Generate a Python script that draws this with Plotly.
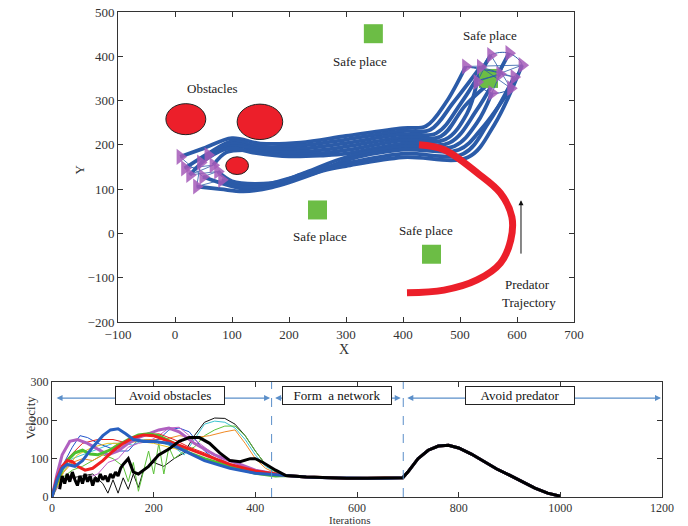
import plotly.graph_objects as go

# ---------------- top chart data ----------------
obst_x = [19, 149, 109]
obst_y = [258, 252, 153]
obst_r = [35, 40, 20]

safe_x = [250, 348, 450, 550]
safe_y = [53, 451, -47, 350]

safe_lbl_x = [254, 325, 440, 553]
safe_lbl_y = [-8, 389, 6, 448]

agent_paths = [
    [(9,173),(50,192),(100,215),(150,203),(220,205),(300,220),(400,238),(440,242),(475,295),(510,377)],
    [(17,147),(60,182),(100,208),(150,196),(220,198),(300,212),(400,231),(448,234),(488,295),(536,376)],
    [(58,177),(85,198),(105,203),(150,190),(220,191),(300,204),(400,224),(458,226),(502,295),(554,403)],
    [(45,160),(75,188),(110,197),(160,184),(230,185),(300,196),(400,217),(466,219),(510,290),(570,360)],
    [(67,154),(90,183),(130,188),(180,178),(250,180),(300,188),(400,210),(474,212),(512,270),(530,342)],
    [(26,132),(55,168),(95,192),(140,182),(200,174),(260,176),(300,180),(400,203),(482,205),(530,280),(586,407)],
    [(49,128),(90,110),(125,100),(170,110),(230,138),(300,172),(400,196),(490,197),(530,250),(556,317)],
    [(38,106),(80,100),(120,95),(170,104),(240,133),(300,165),(400,189),(498,189),(540,240),(589,328)],
    [(82,121),(110,108),(150,108),(210,128),(260,148),(300,158),(400,180),(506,180),(550,250),(595,353)],
    [(75,140),(100,118),(140,112),(200,120),(260,142),(300,152),(400,172),(514,172),(560,245),(609,380)],
]

start_x = [9, 17, 26, 38, 49, 58, 67, 82, 75, 45]
start_y = [173, 147, 132, 106, 128, 177, 154, 121, 140, 160]
end_x = [510, 536, 554, 586, 609, 595, 589, 556, 530, 570]
end_y = [377, 376, 403, 407, 380, 353, 328, 317, 342, 360]

pred_x = [428, 472, 530, 571, 591, 589, 571, 530, 472, 407]
pred_y = [200, 189, 137, 91, 37, -15, -67, -105, -128, -134]

# ---------------- bottom chart data ----------------
tail_x = [460, 500, 540, 580, 620, 660, 690, 700, 720, 740, 760, 780, 800, 825, 850, 875, 900, 925, 950, 975, 1000]
tail_y = [56, 52, 50, 49, 49, 49, 50, 65, 100, 122, 133, 135, 128, 112, 92, 73, 57, 39, 23, 10, 2]

thin_black_x = [20,40,60,80,100,110,120,130,140,150,160,170,180,200,220,240,260,280,300,320,340,360,380,400,420,440]
thin_black_y = [40,50,55,60,35,10,45,10,50,20,60,25,70,90,80,100,115,160,195,206,205,190,160,120,85,68]
thin_cyan_x = [0,20,40,60,80,100,120,140,160,180,200,220,240,260,280,300,320,340,360,380,400,420,440]
thin_cyan_y = [0,60,100,110,120,130,140,140,135,150,150,140,130,110,150,190,198,195,180,150,110,80,65]
thin_green_x = [0,20,40,60,80,100,120,140,150,160,170,180,190,200,210,220,230,240,260,280,300,320,340,360,380,400,420,440]
thin_green_y = [0,50,70,80,95,110,100,80,40,90,15,70,120,60,140,60,130,100,120,130,160,175,185,185,160,120,85,65]
thin_orange_x = [0,20,40,60,80,100,130,160,190,220,250,280,310,340,360,380,400,420,440]
thin_orange_y = [0,60,90,100,95,110,140,145,150,150,160,155,160,170,175,140,100,75,62]
thin_blue_x = [0,20,40,55,70,90,110,130,150,170,190,210,230,250,270,300,330,360,400,440]
thin_blue_y = [0,80,130,160,155,140,130,120,120,150,145,150,175,180,170,120,90,75,65,60]
thin_magenta_x = [0,20,35,50,70,90,110,130,150,170,190,210,230,250,270,300,330,360,400,440]
thin_magenta_y = [0,45,55,40,50,60,90,100,130,140,145,160,180,182,160,130,100,80,65,58]
thin_red_x = [0,30,60,90,120,150,180,210,240,270,300,340,380,420,440]
thin_red_y = [0,100,140,150,150,140,160,165,150,130,115,90,75,65,60]
thin_yellow_x = [0,25,50,80,110,140,170,200,230,260,300,350,400,440]
thin_yellow_y = [0,70,110,130,140,140,145,140,130,120,100,80,65,58]

thick_blue_x = [0,10,20,30,45,60,80,100,115,130,145,160,180,200,230,260,300,350,400,440]
thick_blue_y = [0,45,75,85,80,95,130,160,175,178,165,150,145,145,140,120,95,75,62,58]
thick_red_x = [0,10,20,30,40,50,65,80,100,120,140,160,180,200,230,260,300,350,400,440]
thick_red_y = [0,50,80,95,92,80,70,75,95,120,140,155,162,160,145,130,110,85,68,60]
thick_green_x = [0,10,20,30,45,60,75,90,110,130,150,170,190,210,240,270,300,350,400,440]
thick_green_y = [0,40,70,95,115,122,112,110,120,135,150,162,165,160,140,115,100,80,62,55]
thick_purple_x = [0,10,20,35,50,70,90,110,130,150,170,190,210,230,250,280,320,360,400,440]
thick_purple_y = [0,60,110,145,150,140,125,110,120,140,155,165,175,180,170,140,110,90,70,60]
thick_black_x = [15,20,25,30,35,40,45,50,55,60,65,70,75,80,85,90,95,100,105,110,115,120,125,130,135,140,150,160,170,190,210,230,250,270,290,310,330,350,370,390,400,415,440]
thick_black_y = [20,55,35,60,40,65,45,30,55,35,60,40,55,30,50,40,60,45,55,40,60,50,65,55,75,85,100,65,60,80,110,125,145,155,155,140,115,95,92,100,100,90,70]

phase_x = [432, 691]
phase_names = ["Avoid obstacles", "Form  a network", "Avoid predator"]
phase_lbl_x = [233, 561, 921]
arrow_segs = [(6, 429), (436, 686), (696, 1198)]

FONT = "Liberation Serif"
BLUE = "#2b5ba8"
RED = "#ec1f2a"
GREEN = "#6cbd45"
PURPLE = "rgba(165,90,185,0.85)"
ARROWC = "#5b8fc9"

W, H = 688, 526


def fx(p):
    return p / W


def fy(p):
    return 1 - p / H


fig = go.Figure()

for path in agent_paths:
    fig.add_trace(go.Scatter(x=[p[0] for p in path], y=[p[1] for p in path], mode="lines",
                             line=dict(color=BLUE, width=3.8, shape="spline", smoothing=1.0),
                             xaxis="x", yaxis="y", showlegend=False, hoverinfo="skip"))

fig.add_trace(go.Scatter(x=safe_x, y=safe_y, mode="markers",
                         marker=dict(symbol="square", size=19, color=GREEN),
                         xaxis="x", yaxis="y", showlegend=False))

order = list(range(len(end_x))) + [0]
fig.add_trace(go.Scatter(x=[end_x[i] for i in order], y=[end_y[i] for i in order], mode="lines",
                         line=dict(color=BLUE, width=1, shape="spline"), xaxis="x", yaxis="y", showlegend=False))
cross = [0, 4, 8, 2, 6, 1, 5, 9, 3, 7]
fig.add_trace(go.Scatter(x=[end_x[i] for i in cross], y=[end_y[i] for i in cross], mode="lines",
                         line=dict(color=BLUE, width=0.8), xaxis="x", yaxis="y", showlegend=False))
fig.add_trace(go.Scatter(x=[start_x[i] for i in cross], y=[start_y[i] for i in cross], mode="lines",
                         line=dict(color=BLUE, width=0.8), xaxis="x", yaxis="y", showlegend=False))

fig.add_trace(go.Scatter(x=start_x + end_x, y=start_y + end_y, mode="markers",
                         marker=dict(symbol="triangle-right", size=14, color=PURPLE),
                         xaxis="x", yaxis="y", showlegend=False))

fig.add_trace(go.Scatter(x=pred_x, y=pred_y, mode="lines",
                         line=dict(color=RED, width=7, shape="spline", smoothing=1.0),
                         xaxis="x", yaxis="y", showlegend=False))

for cx, cy, r in zip(obst_x, obst_y, obst_r):
    fig.add_shape(type="circle", xref="x", yref="y", x0=cx - r, x1=cx + r, y0=cy - r, y1=cy + r,
                  fillcolor=RED, line=dict(color="#222", width=1))

ann = []
txtf = dict(family=FONT, size=13, color="#222")
ann.append(dict(x=66, y=328, xref="x", yref="y", text="Obstacles", showarrow=False, font=txtf))
for lx, ly in zip(safe_lbl_x, safe_lbl_y):
    ann.append(dict(x=lx, y=ly, xref="x", yref="y", text="Safe place", showarrow=False, font=txtf))
ann.append(dict(x=619, y=-116, xref="x", yref="y", text="Predator", showarrow=False, font=txtf))
ann.append(dict(x=621, y=-157, xref="x", yref="y", text="Trajectory", showarrow=False, font=txtf))
ann.append(dict(x=607, y=75, ax=607, ay=-49, xref="x", yref="y", axref="x", ayref="y",
                showarrow=True, arrowhead=2, arrowsize=1, arrowwidth=1, arrowcolor="#111", text=""))
ann.append(dict(x=fx(344), y=fy(349), xref="paper", yref="paper", text="X", showarrow=False,
                font=dict(family=FONT, size=14, color="#333")))
ann.append(dict(x=fx(70), y=fy(163), xref="paper", yref="paper", text="Y", showarrow=False, textangle=-90,
                font=dict(family=FONT, size=13, color="#333")))

thin = [
    (thin_black_x, thin_black_y, "#111111"),
    (thin_cyan_x, thin_cyan_y, "#3cc4d0"),
    (thin_green_x, thin_green_y, "#5cc23a"),
    (thin_orange_x, thin_orange_y, "#f08a24"),
    (thin_blue_x, thin_blue_y, "#2255cc"),
    (thin_magenta_x, thin_magenta_y, "#c060c8"),
    (thin_red_x, thin_red_y, "#e82020"),
    (thin_yellow_x, thin_yellow_y, "#e8c020"),
]
for xs, ys, c in thin:
    fig.add_trace(go.Scatter(x=xs + tail_x, y=ys + tail_y, mode="lines",
                             line=dict(color=c, width=1), xaxis="x2", yaxis="y2", showlegend=False))
thick = [
    (thick_purple_x, thick_purple_y, "#b060c0"),
    (thick_green_x, thick_green_y, "#4cc030"),
    (thick_red_x, thick_red_y, "#ee2020"),
    (thick_blue_x, thick_blue_y, "#2860c0"),
    (thick_black_x, thick_black_y, "#000000"),
]
for xs, ys, c in thick:
    fig.add_trace(go.Scatter(x=xs + tail_x, y=ys + tail_y, mode="lines",
                             line=dict(color=c, width=3), xaxis="x2", yaxis="y2", showlegend=False))

for px in phase_x:
    fig.add_shape(type="line", xref="x2", yref="y2", x0=px, x1=px, y0=0, y1=300,
                  line=dict(color=ARROWC, width=1, dash="dash"))

for a, b in arrow_segs:
    ann.append(dict(x=b, y=258, ax=a, ay=258, xref="x2", yref="y2", axref="x2", ayref="y2",
                    showarrow=True, arrowhead=2, startarrowhead=2, arrowside="end+start",
                    arrowsize=1, arrowwidth=1.2, arrowcolor=ARROWC, text=""))
for name, lx in zip(phase_names, phase_lbl_x):
    ann.append(dict(x=lx, y=266, xref="x2", yref="y2", text=name, showarrow=False,
                    font=dict(family=FONT, size=13, color="#111"), bgcolor="white",
                    bordercolor="#222", borderwidth=1, borderpad=2, width=104, height=13))

ann.append(dict(x=fx(20), y=fy(442), xref="paper", yref="paper", text="Velocity", showarrow=False, textangle=-90,
                font=dict(family=FONT, size=13, color="#333")))
ann.append(dict(x=fx(350), y=fy(519.5), xref="paper", yref="paper", text="Iterations", showarrow=False,
                yanchor="middle", font=dict(family=FONT, size=11, color="#333")))

axstyle = dict(showline=True, linecolor="#333", linewidth=1, mirror="ticks", ticks="inside",
               ticklen=5, tickcolor="#333", showgrid=False, zeroline=False, automargin=False,
               tickfont=dict(family=FONT, size=13, color="#333"))

fig.update_layout(
    width=W, height=H, margin=dict(l=0, r=0, t=0, b=0),
    paper_bgcolor="white", plot_bgcolor="white",
    xaxis=dict(domain=[fx(118), fx(574)], range=[-100, 700], tickvals=list(range(-100, 701, 100)), anchor="y", **axstyle),
    yaxis=dict(domain=[fy(322), fy(12)], range=[-200, 500], tickvals=list(range(-200, 501, 100)), anchor="x", **axstyle),
    xaxis2=dict(domain=[fx(52), fx(662)], range=[0, 1200], tickvals=list(range(0, 1201, 200)), anchor="y2", **axstyle),
    yaxis2=dict(domain=[fy(497), fy(382)], range=[0, 300], tickvals=[0, 100, 200, 300], anchor="x2", **axstyle),
    annotations=ann,
    showlegend=False,
)
fig.update_layout(xaxis2_tickfont_size=12, yaxis2_tickfont_size=12)

fig.write_html("out.html", config={"displayModeBar": False},
               post_script="document.body.style.margin='0';document.body.style.overflow='hidden';")
